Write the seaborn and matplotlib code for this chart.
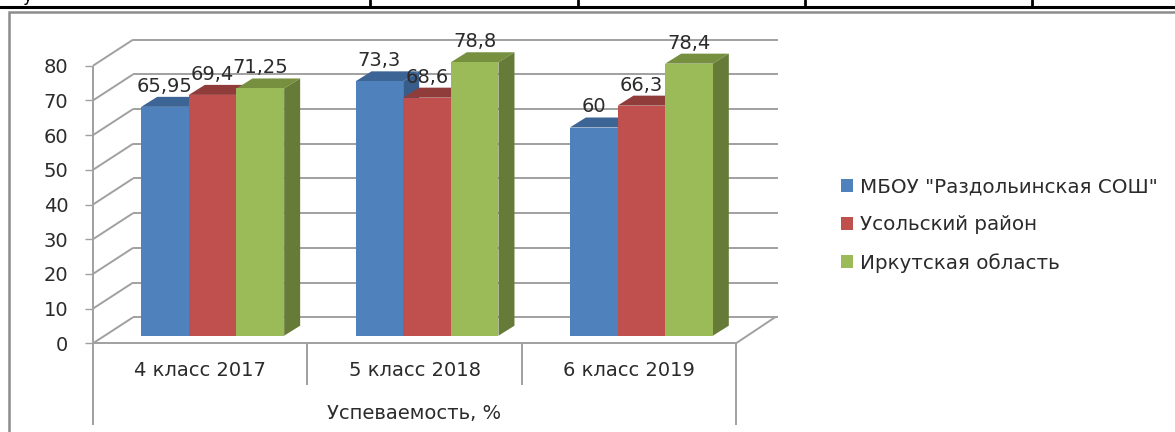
import matplotlib
matplotlib.use("Agg")
import matplotlib.pyplot as plt
from matplotlib.lines import Line2D
from matplotlib.patches import Polygon
import pandas as pd
import seaborn as sns

groups = ["4 класс 2017", "5 класс 2018", "6 класс 2019"]
school = [65.95, 73.3, 60]
district = [69.4, 68.6, 66.3]
region = [71.25, 78.8, 78.4]
series_names = ['МБОУ "Раздольинская СОШ"', "Усольский район", "Иркутская область"]
y_ticks = [0, 10, 20, 30, 40, 50, 60, 70, 80]
axis_title = "Успеваемость, %"

front_colors = ["#4F81BD", "#C0504D", "#9BBB59"]
top_colors = ["#3C6494", "#8F3C3A", "#76903F"]
side_colors = ["#385D8A", "#8A3836", "#657B37"]
line_color = "#a0a0a0"
text_color = "#2b2b2b"

W, H = 1175, 432
sns.set_theme(style="white")
plt.rcParams["font.family"] = ["DejaVu Sans"]

rows = []
for name, vals in zip(series_names, [school, district, region]):
    for g, v in zip(groups, vals):
        rows.append({"group": g, "series": name, "value": v})
df = pd.DataFrame(rows)

fig = plt.figure(figsize=(W / 100, H / 100), dpi=100)


def px_box(left, right, top, bottom):
    return [left / W, 1 - bottom / H, (right - left) / W, (bottom - top) / H]


# front plane with the real axes, bars sit a bit deeper on their own axes
FL, FR, FT, FB = 93, 736, 65.7, 343.3
BAR_DX, BAR_DY = 12.5, 7.6       # front plane -> bar front
DEPTH_DX, DEPTH_DY = 16, 10      # depth of a bar
WALL_DX, WALL_DY = 40, 26        # front plane -> back wall

frame = fig.add_axes(px_box(FL, FR, FT, FB))
frame.set_xlim(-0.5, 2.5)
frame.set_ylim(0, 80)
ax = fig.add_axes(px_box(FL + BAR_DX, FR + BAR_DX, FT - BAR_DY, FB - BAR_DY), zorder=3)
ax.patch.set_alpha(0)

x_per_px = 3 / (FR - FL)
y_per_px = 80 / (FB - FT)

# walls and floor
wall = dict(color=line_color, lw=1.4, clip_on=False, solid_capstyle="butt")
for t in y_ticks:
    frame.plot([-0.5, -0.5 + WALL_DX * x_per_px], [t, t + WALL_DY * y_per_px], **wall)
    frame.plot([-0.5 + WALL_DX * x_per_px, 2.5 + (WALL_DX + 2) * x_per_px],
               [t + WALL_DY * y_per_px] * 2, **wall)
frame.plot([2.5, 2.5 + (WALL_DX - 1) * x_per_px], [0, WALL_DY * y_per_px], **wall)
frame.plot([-0.5, -0.5], [-(425 - FB) * y_per_px, 80], **wall)
frame.plot([2.5, 2.5], [-(425 - FB) * y_per_px, 0], **wall)
for x in [0.5, 1.5]:
    frame.plot([x, x], [-(385 - FB) * y_per_px, 0], **wall)

sns.barplot(data=df, x="group", y="value", hue="series", hue_order=series_names,
            palette=front_colors, order=groups, width=0.667, gap=0, saturation=1,
            ax=ax, edgecolor="none", linewidth=0)
ax.set_xlim(-0.5, 2.5)
ax.set_ylim(0, 80)
ax.axis("off")

# oblique tops and right sides, taken from the bars seaborn drew
# each series goes over the sides of the one before it
dx = DEPTH_DX * x_per_px
dy = DEPTH_DY * y_per_px
for i, cont in enumerate(ax.containers):
    labels = [f"{v:g}".replace(".", ",") for v in cont.datavalues]
    ax.bar_label(cont, labels=labels, padding=8, fontsize=14, color=text_color,
                 clip_on=False, zorder=10)
    for bar in cont:
        bar.set_zorder(2 + 2 * i)
        x0, x1 = bar.get_x(), bar.get_x() + bar.get_width()
        h = bar.get_height()
        ax.add_patch(Polygon([(x0, h), (x1, h), (x1 + dx, h + dy), (x0 + dx, h + dy)],
                             color=top_colors[i], lw=0, clip_on=False, zorder=1 + 2 * i))
        ax.add_patch(Polygon([(x1, 0), (x1 + dx, dy), (x1 + dx, h + dy), (x1, h)],
                             color=side_colors[i], lw=0, clip_on=False, zorder=1 + 2 * i))

# axis ticks and labels
for s in ["top", "right", "left"]:
    frame.spines[s].set_visible(False)
frame.spines["bottom"].set_color(line_color)
frame.spines["bottom"].set_linewidth(1.4)
frame.set_yticks(y_ticks)
frame.set_yticklabels([str(t) for t in y_ticks], fontsize=14, color=text_color)
frame.tick_params(axis="y", left=True, length=5.8, width=1, color=line_color, pad=12)
frame.set_xticks([0, 1, 2])
frame.set_xticklabels(groups, fontsize=14, color=text_color)
frame.tick_params(axis="x", bottom=False, pad=7)
frame.set_xlabel(axis_title, fontsize=14, color=text_color, labelpad=17)

# legend
sns.move_legend(ax, "center left", bbox_to_anchor=(841 / W, 1 - 225 / H),
                bbox_transform=fig.transFigure, frameon=False, title=None, fontsize=14.3,
                handlelength=0.62, handleheight=0.62, handletextpad=0.33, labelspacing=0.95,
                labelcolor=text_color, borderaxespad=0, borderpad=0)

# page around the chart: table rule above, grey chart border
fig.add_artist(Line2D([0, 1], [1 - 6.5 / H] * 2, color="black", lw=2.2))
for x in [369.5, 577.5, 805, 1032]:
    fig.add_artist(Line2D([x / W] * 2, [1 - 6 / H, 1], color="black", lw=2))
fig.add_artist(Line2D([8.5 / W, 8.5 / W, 1], [0, 1 - 11.5 / H, 1 - 11.5 / H],
                      color="#8c8c8c", lw=1.8, solid_joinstyle="miter"))
# cut-off text of the table row above
fig.text(22 / W, 1 - 1 / H, "у", fontsize=12, color="black", va="baseline")
for x in [471, 696, 924]:
    fig.text(x / W, 1 + 2 / H, ",", fontsize=12, color="black", va="baseline")

fig.savefig("out.png", dpi=100)
